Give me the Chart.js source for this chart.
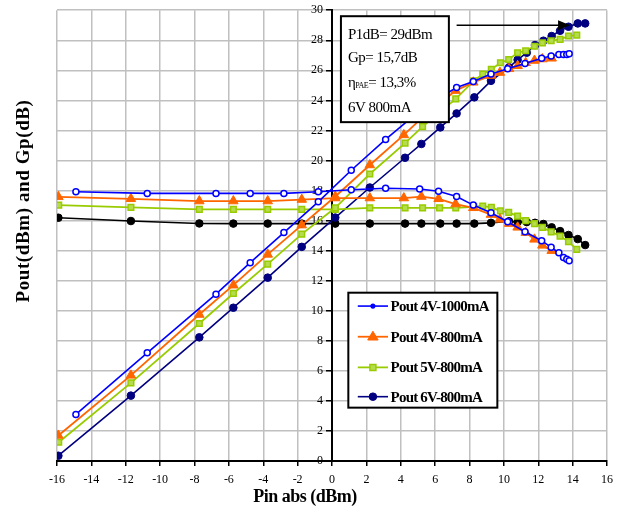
<!DOCTYPE html>
<html>
<head>
<meta charset="utf-8">
<script src="https://cdn.jsdelivr.net/npm/chart.js@4/dist/chart.umd.min.js"></script>
<style>
  body { margin: 0; background: #fff; }
  canvas { display: block; }
</style>
</head>
<body>
<canvas id="myChart" width="623" height="510"></canvas>
<script>
// Pin (dBm) for each bias point, with measured Pout (dBm) and gain Gp (dB)
var pin4V1000 = [-14.9, -10.75, -6.75, -4.76, -2.8, -0.8, 1.12, 3.12, 5.1, 6.2, 7.25, 8.22, 9.25, 10.22, 11.23, 12.2, 12.75, 13.2, 13.47, 13.66, 13.8];
var pout4V1000 = [3.1, 7.2, 11.1, 13.2, 15.2, 17.25, 19.35, 21.4, 23.3, 24.15, 24.85, 25.25, 25.75, 26.1, 26.45, 26.8, 26.95, 27.05, 27.05, 27.05, 27.1];
var gain4V1000 = [17.92, 17.81, 17.81, 17.81, 17.81, 17.92, 18.05, 18.15, 18.1, 17.95, 17.6, 17.03, 16.52, 15.92, 15.26, 14.66, 14.22, 13.86, 13.55, 13.42, 13.33];

var pin4V800 = [-15.92, -11.7, -7.72, -5.74, -3.74, -1.76, 0.19, 2.2, 4.18, 5.2, 6.2, 7.19, 8.22, 9.25, 9.77, 10.3, 10.8, 11.27, 11.78, 12.24, 12.78];
var pout4V800 = [1.7, 5.7, 9.75, 11.7, 13.75, 15.7, 17.6, 19.7, 21.7, 22.8, 23.7, 24.65, 25.2, 25.65, 25.85, 26.1, 26.3, 26.5, 26.65, 26.75, 26.8];
var gain4V800 = [17.58, 17.45, 17.3, 17.3, 17.3, 17.4, 17.5, 17.5, 17.5, 17.6, 17.45, 17.1, 16.85, 16.4, 16.08, 15.8, 15.55, 15.2, 14.75, 14.35, 14.0];

var pin5V800 = [-15.9, -11.7, -7.72, -5.74, -3.74, -1.76, 0.19, 2.2, 4.25, 5.27, 6.26, 7.2, 8.25, 8.77, 9.27, 9.8, 10.28, 10.8, 11.27, 11.78, 12.24, 12.75, 13.27, 13.76, 14.24];
var pout5V800 = [1.25, 5.2, 9.15, 11.15, 13.1, 15.1, 16.85, 19.1, 21.15, 22.25, 23.2, 24.1, 25.3, 25.75, 26.06, 26.5, 26.72, 27.17, 27.3, 27.6, 27.83, 27.97, 28.06, 28.28, 28.34];
var gain5V800 = [17.03, 16.88, 16.75, 16.75, 16.75, 16.75, 16.75, 16.85, 16.85, 16.85, 16.85, 16.85, 16.92, 16.97, 16.88, 16.65, 16.55, 16.3, 16.0, 15.8, 15.55, 15.25, 14.97, 14.6, 14.08];

var pin6V800 = [-15.92, -11.7, -7.72, -5.74, -3.74, -1.76, 0.19, 2.2, 4.25, 5.2, 6.3, 7.25, 8.28, 9.25, 10.3, 10.8, 11.33, 11.81, 12.3, 12.78, 13.27, 13.76, 14.3, 14.73];
var pout6V800 = [0.35, 4.35, 8.23, 10.2, 12.2, 14.25, 16.2, 18.2, 20.18, 21.1, 22.2, 23.13, 24.2, 25.3, 26.2, 26.7, 27.17, 27.68, 27.97, 28.28, 28.63, 28.9, 29.12, 29.12];
var gain6V800 = [16.19, 15.97, 15.81, 15.8, 15.8, 15.8, 15.8, 15.8, 15.8, 15.8, 15.8, 15.8, 15.8, 15.85, 15.95, 15.9, 15.9, 15.85, 15.77, 15.55, 15.3, 15.04, 14.77, 14.37];

var xTicks = [-16, 16, 2];
var yTicks = [0, 30, 2];

var noteLines = ['P1dB= 29dBm', 'Gp= 15,7dB', '\u03B7|PAE|= 13,3%', '6V 800mA'];

function pts(xs, ys) {
    return xs.map(function (x, i) { return { x: x, y: ys[i] }; });
}

var SERIF = '"Liberation Serif", "Times New Roman", serif';

function style(label, color, shape, r, fill, bw, lw) {
    return {
        label: label,
        borderColor: color,
        backgroundColor: fill,
        pointBackgroundColor: fill,
        pointBorderColor: color,
        pointBorderWidth: bw,
        pointStyle: shape,
        pointRadius: r,
        borderWidth: lw,
        tension: 0,
        fill: false
    };
}

var datasets = [
    Object.assign(style('Pout 4V-1000mA', '#0000ff', 'circle', 3, '#ffffff', 1.5, 1.6), { data: pts(pin4V1000, pout4V1000) }),
    Object.assign(style('Gp 4V-1000mA', '#0000ff', 'circle', 3, '#ffffff', 1.5, 1.6), { data: pts(pin4V1000, gain4V1000), hideLegend: true }),
    Object.assign(style('Pout 4V-800mA', '#ff6600', 'triangle', 5.5, '#ff6600', 1, 1.8), { data: pts(pin4V800, pout4V800) }),
    Object.assign(style('Gp 4V-800mA', '#ff6600', 'triangle', 5.5, '#ff6600', 1, 1.8), { data: pts(pin4V800, gain4V800), hideLegend: true }),
    Object.assign(style('Pout 5V-800mA', '#99cc00', 'rect', 4, '#b4dc4c', 1.5, 1.8), { data: pts(pin5V800, pout5V800) }),
    Object.assign(style('Gp 5V-800mA', '#99cc00', 'rect', 4, '#b4dc4c', 1.5, 1.8), { data: pts(pin5V800, gain5V800), hideLegend: true }),
    Object.assign(style('Pout 6V-800mA', '#000080', 'circle', 3.8, '#000080', 1, 1.6), { data: pts(pin6V800, pout6V800) }),
    Object.assign(style('Gp 6V-800mA', '#000000', 'circle', 3.8, '#000000', 1, 1.6), { data: pts(pin6V800, gain6V800), hideLegend: true })
];

function marker(ctx, shape, x, y, r, fill, stroke, bw) {
    ctx.save();
    ctx.fillStyle = fill;
    ctx.strokeStyle = stroke;
    ctx.lineWidth = bw;
    ctx.beginPath();
    if (shape === 'triangle') {
        ctx.moveTo(x, y - r);
        ctx.lineTo(x + r * 0.95, y + r * 0.6);
        ctx.lineTo(x - r * 0.95, y + r * 0.6);
        ctx.closePath();
    } else if (shape === 'rect') {
        ctx.rect(x - r * 0.75, y - r * 0.75, r * 1.5, r * 1.5);
    } else {
        ctx.arc(x, y, r, 0, Math.PI * 2);
    }
    ctx.fill();
    ctx.stroke();
    ctx.restore();
}

var overlay = {
    id: 'overlay',
    afterDraw: function (chart) {
        var ctx = chart.ctx;
        var xs = chart.scales.x, ys = chart.scales.y;
        var px = function (v) { return xs.getPixelForValue(v); };
        var py = function (v) { return ys.getPixelForValue(v); };

        ctx.save();
        // note box
        var bx = px(0.52), by = py(29.6), bw = px(6.8) - bx, bh = py(22.55) - by;
        ctx.fillStyle = '#fff';
        ctx.fillRect(bx, by, bw, bh);
        ctx.strokeStyle = '#000';
        ctx.lineWidth = 2;
        ctx.strokeRect(bx, by, bw, bh);
        ctx.fillStyle = '#000';
        ctx.textBaseline = 'alphabetic';
        ctx.letterSpacing = '-0.5px';
        var lineY = [28.1, 26.55, 24.9, 23.25];
        noteLines.forEach(function (t, i) {
            var x = px(0.93), y = py(lineY[i]);
            var parts = t.split('|');
            ctx.font = '15px ' + SERIF;
            ctx.fillText(parts[0], x, y);
            if (parts.length > 1) {
                x += ctx.measureText(parts[0]).width;
                ctx.font = '8px ' + SERIF;
                ctx.fillText(parts[1], x, y + 1);
                x += ctx.measureText(parts[1]).width;
                ctx.font = '15px ' + SERIF;
                ctx.fillText(parts[2], x, y);
            }
        });

        // arrow to P1dB
        var ay = py(29), ax0 = px(7.25), ax1 = px(13.85);
        ctx.strokeStyle = '#000';
        ctx.lineWidth = 1.6;
        ctx.beginPath();
        ctx.moveTo(ax0, ay);
        ctx.lineTo(ax1 - 10, ay);
        ctx.stroke();
        ctx.beginPath();
        ctx.moveTo(ax1, ay);
        ctx.lineTo(ax1 - 12, ay - 5);
        ctx.lineTo(ax1 - 12, ay + 5);
        ctx.closePath();
        ctx.fill();

        // legend box
        var lx = px(0.95), ly = py(11.2), lw = px(9.62) - lx, lh = py(3.55) - ly;
        ctx.fillStyle = '#fff';
        ctx.fillRect(lx, ly, lw, lh);
        ctx.lineWidth = 2;
        ctx.strokeRect(lx, ly, lw, lh);
        var rowY = [10.31, 8.27, 6.23, 4.28];
        var shown = chart.data.datasets.filter(function (d) { return !d.hideLegend; });
        shown.forEach(function (d, i) {
            var y = py(rowY[i]), x0 = px(1.5), x1 = px(3.26);
            ctx.strokeStyle = d.borderColor;
            ctx.lineWidth = d.borderWidth;
            ctx.beginPath();
            ctx.moveTo(x0, y);
            ctx.lineTo(x1, y);
            ctx.stroke();
            var r = i === 0 ? 1.8 : d.pointRadius;
            var f = i === 0 ? d.borderColor : d.pointBackgroundColor;
            marker(ctx, d.pointStyle, (x0 + x1) / 2, y, r, f, d.pointBorderColor, d.pointBorderWidth);
            ctx.fillStyle = '#000';
            ctx.font = 'bold 15px ' + SERIF;
            ctx.letterSpacing = '-0.8px';
            ctx.textBaseline = 'middle';
            ctx.fillText(d.label, px(3.41), y + 1);
        });

        // axis titles
        ctx.textAlign = 'center';
        ctx.textBaseline = 'middle';
        ctx.font = 'bold 18px ' + SERIF;
        ctx.letterSpacing = '-0.5px';
        ctx.fillText('Pin abs (dBm)', 305, 497);
        ctx.translate(24, 201);
        ctx.rotate(-Math.PI / 2);
        ctx.font = 'bold 19px ' + SERIF;
        ctx.letterSpacing = '0.6px';
        ctx.fillText('Pout(dBm) and Gp(dB)', 0, 0);
        ctx.restore();
    }
};

var CHART = document.getElementById('myChart');
var myChart = new Chart(CHART, {
    type: 'line',
    data: { datasets: datasets },
    options: {
        responsive: false,
        animation: false,
        layout: { padding: { left: 57, right: 16, top: 10, bottom: 0 } },
        plugins: { legend: { display: false }, tooltip: { enabled: false } },
        scales: {
            x: {
                type: 'linear',
                min: xTicks[0],
                max: xTicks[1],
                ticks: { stepSize: xTicks[2], color: '#000', padding: 7, font: { family: SERIF, size: 12 } },
                grid: { color: '#c0c0c0', lineWidth: 1.5, tickColor: '#000', tickLength: 5 },
                border: { color: '#000', width: 2 },
                afterFit: function (s) { s.height = 49; }
            },
            y: {
                type: 'linear',
                min: yTicks[0],
                max: yTicks[1],
                position: { x: 0 },
                ticks: {
                    stepSize: yTicks[2], color: '#000', font: { family: SERIF, size: 12 },
                    // labels sit left of the centred axis line
                    callback: function (v) { return v + '   '; }
                },
                grid: { color: '#c0c0c0', lineWidth: 1.5, tickColor: '#000', tickLength: 5 },
                border: { color: '#000', width: 2 },
                afterFit: function (s) { s.width = 0; }
            }
        }
    },
    plugins: [overlay]
});
</script>
</body>
</html>
